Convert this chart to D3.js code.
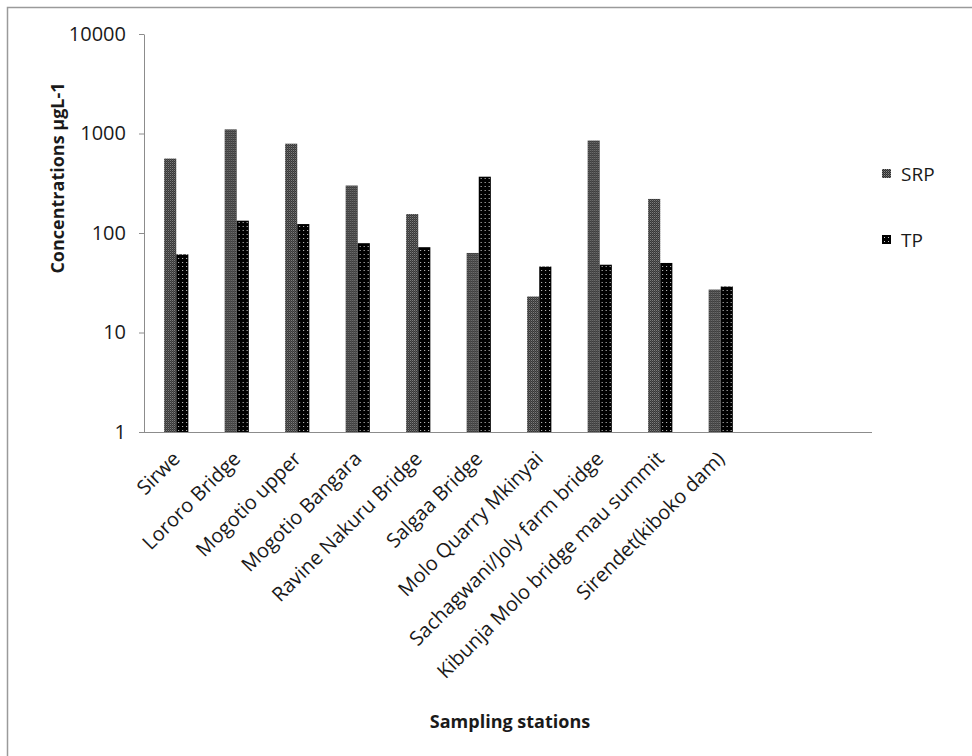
<!DOCTYPE html>
<html>
<head>
<meta charset="utf-8">
<script src="https://cdn.jsdelivr.net/npm/d3@7"></script>
<style>
  html, body { margin: 0; padding: 0; background: #fff; }
  svg { display: block; }
  text { font-family: "Open Sans", "DejaVu Sans", sans-serif; fill: #1a1a1a; }
</style>
</head>
<body>
<svg id="chart" width="972" height="756"></svg>
<script>
// Phosphorus concentrations (µg/L) at the sampling stations
const stations = [
  "Sirwe", "Lororo Bridge", "Mogotio upper", "Mogotio Bangara",
  "Ravine Nakuru Bridge", "Salgaa Bridge", "Molo Quarry  Mkinyai",
  "Sachagwani/Joly farm bridge", "Kibunja Molo bridge mau summit",
  "Sirendet(kiboko dam)"
];
// two empty category slots follow the stations on the axis
const emptySlots = ["__a", "__b"];
const seriesNames = ["SRP", "TP"];
const srpValues = [560, 1100, 790, 300, 155, 63, 23, 850, 220, 27];
const tpValues  = [61, 133, 123, 79, 72, 368, 46, 48, 50, 29];
const yTickValues = [1, 10, 100, 1000, 10000];

const svg = d3.select("#chart");

// outer frame
svg.append("rect")
  .attr("x", 7.5).attr("y", 7.5)
  .attr("width", 1000).attr("height", 1000)
  .attr("fill", "none").attr("stroke", "#9a9a9a").attr("stroke-width", 1.5);

// fill patterns for the two series
const defs = svg.append("defs");
const pSRP = defs.append("pattern").attr("id", "pat-srp")
  .attr("patternUnits", "userSpaceOnUse").attr("width", 2).attr("height", 2);
pSRP.append("rect").attr("width", 2).attr("height", 2).attr("fill", "#2e2e2e");
pSRP.append("rect").attr("width", 1).attr("height", 1).attr("fill", "#8a8a8a");
pSRP.append("rect").attr("x", 1).attr("y", 1).attr("width", 1).attr("height", 1).attr("fill", "#5a5a5a");

const pTP = defs.append("pattern").attr("id", "pat-tp")
  .attr("patternUnits", "userSpaceOnUse").attr("width", 4).attr("height", 4);
pTP.append("rect").attr("width", 4).attr("height", 4).attr("fill", "#000");
pTP.append("rect").attr("x", 2).attr("y", 2).attr("width", 1).attr("height", 1).attr("fill", "#cfcfcf");

const fills = { SRP: "url(#pat-srp)", TP: "url(#pat-tp)" };

const axisLeft = 144, axisRight = 872, yTop = 34, yBottom = 432;

const x = d3.scaleBand()
  .domain(stations.concat(emptySlots))
  .range([146, axisRight])
  .paddingInner(0.6)
  .paddingOuter(0.3);

const xs = d3.scaleBand().domain(seriesNames).range([0, x.bandwidth()]);

const y = d3.scaleLog().domain([1, 10000]).range([yBottom, yTop]);

// bars
const rows = stations.map((s, i) => ({ station: s, SRP: srpValues[i], TP: tpValues[i] }));
const groups = svg.append("g").selectAll("g").data(rows).join("g")
  .attr("transform", d => `translate(${x(d.station)},0)`);
groups.selectAll("rect")
  .data(d => seriesNames.map(k => ({ key: k, value: d[k] })))
  .join("rect")
  .attr("x", d => xs(d.key))
  .attr("width", xs.bandwidth())
  .attr("y", d => y(d.value))
  .attr("height", d => y(1) - y(d.value))
  .attr("fill", d => fills[d.key]);

// y axis
const yAxis = svg.append("g")
  .attr("transform", `translate(${axisLeft},0)`)
  .call(d3.axisLeft(y).tickValues(yTickValues).tickFormat(d3.format("d"))
    .tickSize(5).tickSizeOuter(0).tickPadding(13));
yAxis.select(".domain").attr("stroke", "#8c8c8c");
yAxis.selectAll(".tick line").attr("stroke", "#8c8c8c");
yAxis.selectAll(".tick text")
  .style("font-size", "20px").attr("fill", "#1a1a1a")
  .style("font-family", "'Open Sans', sans-serif");

// x axis
const xAxis = svg.append("g")
  .attr("transform", `translate(0,${yBottom})`)
  .call(d3.axisBottom(x).tickSize(0).tickSizeOuter(0).tickPadding(0)
    .tickFormat(d => stations.includes(d) ? d : ""));
xAxis.select(".domain").attr("stroke", "#8c8c8c").attr("d", `M${axisLeft},0.5H${axisRight}`);
xAxis.selectAll(".tick text")
  .style("font-size", "20px")
  .style("font-family", "'Open Sans', sans-serif")
  .attr("fill", "#1a1a1a")
  .attr("text-anchor", "end")
  .attr("dy", null)
  .attr("y", 0)
  .attr("transform", "translate(5,28) rotate(-45)");

// axis titles
svg.append("text")
  .attr("transform", "translate(64,178) rotate(-90)")
  .attr("text-anchor", "middle")
  .style("font-size", "18px").style("font-weight", "bold")
  .text("Concentrations µgL-1");

svg.append("text")
  .attr("x", 510).attr("y", 728)
  .attr("text-anchor", "middle")
  .style("font-size", "18px").style("font-weight", "bold")
  .text("Sampling stations");

// legend
const legend = svg.append("g").selectAll("g").data(seriesNames).join("g")
  .attr("transform", (d, i) => `translate(882,${169 + i * 66})`);
legend.append("rect").attr("width", 9).attr("height", 9).attr("fill", d => fills[d]);
legend.append("text").attr("x", 19).attr("y", 5).attr("dy", "0.35em")
  .style("font-size", "19px").text(d => d);
</script>
</body>
</html>
